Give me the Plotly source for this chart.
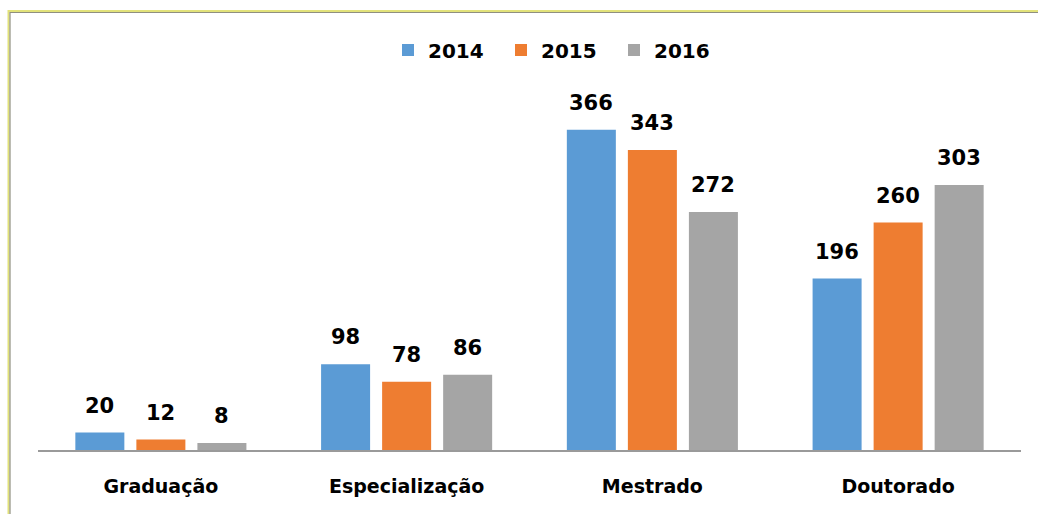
import plotly.graph_objects as go

categories = ["Graduação", "Especialização", "Mestrado", "Doutorado"]
years = ["2014", "2015", "2016"]
v2014 = [20, 98, 366, 196]
v2015 = [12, 78, 343, 260]
v2016 = [8, 86, 272, 303]
series = [v2014, v2015, v2016]
colors = ["#5b9bd5", "#ee7d31", "#a5a5a5"]

FONT = "DejaVu Sans"

fig = go.Figure()
for name, vals, col in zip(years, series, colors):
    fig.add_trace(go.Bar(
        x=categories, y=vals, name=name,
        marker=dict(color=col, line=dict(width=0)),
    ))

# value labels above bars
offsets = [-61, 0, 61]
for vals, dx in zip(series, offsets):
    for c, v in zip(categories, vals):
        fig.add_annotation(
            x=c, y=v, text=str(v), showarrow=False,
            xanchor="center", yanchor="bottom", xshift=dx, yshift=13,
            font=dict(family=FONT, size=21, color="#000000", weight="bold"),
        )

L, R, T, B = 38, 17, 100, 64
W, H = 1038, 514
pw, ph = W - L - R, H - T - B

def px(x):
    return (x - L) / pw

def py(y):
    return (H - B - y) / ph

# outer frame (double line)
fig.add_shape(type="rect", xref="paper", yref="paper",
              x0=px(8.5), y0=py(530), x1=px(1060), y1=py(11),
              line=dict(color="#e2e27a", width=2), layer="below")
fig.add_shape(type="rect", xref="paper", yref="paper",
              x0=px(10), y0=py(530), x1=px(1060), y1=py(12.5),
              line=dict(color="#8f8f80", width=1.2), layer="below")

fig.update_layout(
    width=W, height=H,
    margin=dict(l=L, r=R, t=T, b=B),
    paper_bgcolor="white", plot_bgcolor="white",
    barmode="group", bargap=0.255, bargroupgap=0.197,
    showlegend=True,
    legend=dict(orientation="h", x=0.5 + 28 / pw, xanchor="center", y=py(50), yanchor="middle",
                font=dict(family=FONT, size=20, color="#000000", weight="bold"),
                itemsizing="constant", traceorder="normal",
                entrywidth=68, entrywidthmode="pixels"),
    font=dict(family=FONT),
    xaxis=dict(showline=True, linecolor="#9a9a9a", linewidth=2, ticks="",
               tickfont=dict(family=FONT, size=19, color="#000000", weight="bold"),
               showgrid=False, fixedrange=True, ticklabelstandoff=18),
    yaxis=dict(range=[0, 400], visible=False, showgrid=False, zeroline=False),
)

fig.write_html("out.html", config={"displayModeBar": False},
               post_script="document.body.style.margin='0';document.body.style.overflow='hidden';")
